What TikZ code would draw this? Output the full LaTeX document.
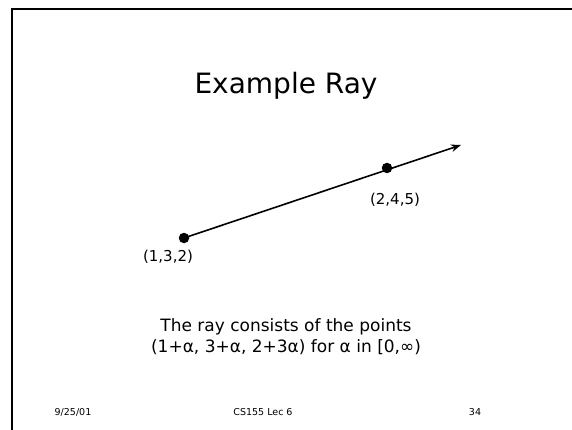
\documentclass[tikz,border=0pt]{standalone}
\usepackage{fontspec}
\setmainfont{DejaVu Sans}
\usetikzlibrary{positioning, arrows.meta}
\definecolor{Ink}{HTML}{000000}
\definecolor{Frame}{HTML}{000000}
\tikzset{
    dot/.style={circle, fill=Ink, inner sep=0pt, minimum size=10.5pt},
    ptlabel/.style={font=\fontsize{15}{18}\selectfont, text=Ink, inner sep=0pt},
    raypath/.style={-{Stealth[length=10pt, width=7.5pt]}, line width=1.6pt, color=Ink},
    footer/.style={font=\fontsize{9.5}{11}\selectfont, text=Ink, inner sep=0pt},
}
\begin{document}
\begin{tikzpicture}[x=1pt, y=-1pt]
                \useasboundingbox (0,0) rectangle (572,430);
                % Cornice della slide
                \draw[line width=2pt, Frame] (11.5,431) -- (11.5,9) -- (573,9);

                % Titolo
                \node[font=\fontsize{28}{34}\selectfont, text=Ink] (title) at (286,86) {Example Ray};

                % Punti e raggio
                \node[dot] (p1) at (184,238) {};
                \node[dot] (p2) at (387,168) {};
                \coordinate (tip) at (461,145);
                \draw[raypath] (p1.center) -- (tip);
                \node[ptlabel, below=6pt of p1, xshift=-16pt] (l1) {(1,3,2)};
                \node[ptlabel, below=19pt of p2, xshift=8pt] (l2) {(2,4,5)};

                % Testo
                \node[font=\fontsize{17}{21}\selectfont, text=Ink, align=center] (desc) at (286,337)
                    {The ray consists of the points\\(1+α, 3+α, 2+3α) for α in [0,∞)};

                % Pie' di pagina
                \node[footer] (date) at (73,412) {9/25/01};
                \node[footer] (course) at (263,412) {CS155 Lec 6};
                \node[footer] (page) at (475,412) {34};
            \end{tikzpicture}
\end{document}
